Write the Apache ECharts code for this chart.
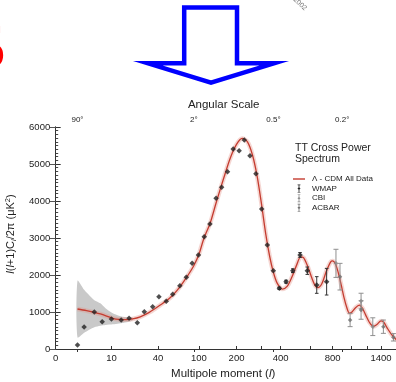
<!DOCTYPE html>
<html><head><meta charset="utf-8">
<script src="https://cdn.jsdelivr.net/npm/echarts@6/dist/echarts.min.js"></script>
<style>html,body{margin:0;padding:0;background:#fff}#c{width:396px;height:382px}</style>
</head><body><div id="c"></div>
<script>
// ---- axis ticks ----
const bottomTicks = [0, 10, 40, 100, 200, 300, 400, 600, 800, 1000, 1200, 1400];
const bottomLabels = [0, 10, 40, 100, 200, 400, 800, 1400];
const angleLabels = [90, 2, 0.5, 0.2];      // degrees, l = 180/theta
const lMax = 1690;

// ---- Lambda-CDM model curve ----
const modelL = [2, 3.4, 6.5, 10.5, 13, 16.7, 20, 25, 32, 42, 54, 67, 80, 90, 100, 110, 125, 140, 160, 180, 200, 220, 240, 260, 280, 300, 320, 340, 360, 380, 410, 440, 470, 500, 530, 550, 580, 610, 640, 665, 700, 740, 780, 800, 830, 860, 890, 920, 950, 980, 1010, 1050, 1100, 1140, 1180, 1230, 1290, 1340, 1400, 1440, 1500, 1560, 1625, 1690];
const modelV = [1081, 1036, 946, 829, 800, 795, 812, 870, 990, 1180, 1390, 1680, 2000, 2250, 2560, 2980, 3420, 3980, 4620, 5170, 5530, 5690, 5600, 5250, 4680, 3920, 3120, 2500, 2060, 1780, 1620, 1700, 1950, 2260, 2490, 2470, 2250, 1960, 1720, 1660, 1770, 2100, 2350, 2380, 2290, 2040, 1720, 1380, 1120, 970, 1000, 1110, 1185, 1100, 930, 730, 610, 660, 760, 730, 560, 410, 290, 200];

// ---- cosmic variance band ----
const bandL    = [2, 3, 4, 5, 6.5, 8, 10.5, 13, 16.7, 20];
const bandLow  = [315, 440, 530, 590, 631, 650, 667, 690, 721, 770];
const bandHigh = [1846, 1600, 1440, 1320, 1234, 1100, 964, 900, 856, 850];

// ---- WMAP ----
const wmapL   = [2, 3, 5, 7, 10, 14, 18, 23, 28, 35, 41, 49, 57, 67, 77, 87, 99, 111, 124, 139, 154, 171, 189, 209, 228, 250, 275, 301, 328, 359, 392, 432, 475, 525, 579, 655, 743];
const wmapV   = [108, 595, 1000, 738, 811, 784, 829, 712, 1009, 1144, 1414, 1288, 1477, 1712, 1937, 2315, 2541, 3036, 3378, 4072, 4370, 4792, 5405, 5360, 5649, 5225, 4738, 3784, 2811, 2116, 1640, 1819, 2116, 2541, 2116, 1730, 1819];
const wmapErr = [0, 0, 0, 0, 0, 0, 0, 0, 0, 0, 0, 0, 0, 0, 0, 0, 0, 0, 0, 0, 0, 0, 0, 0, 0, 0, 0, 0, 0, 0, 30, 40, 50, 65, 100, 225, 360];

// ---- CBI ----
const cbiL   = [834, 1122, 1280];
const cbiV   = [2315, 1297, 603];
const cbiErr = [380, 210, 240];

// ---- ACBAR ----
const acbarL   = [876, 988, 1122, 1437, 1599];
const acbarV   = [1955, 784, 1054, 603, 316];
const acbarErr = [360, 180, 250, 180, 100];

// multipole axis scale
const P = 0.23;
const g = l => Math.pow(1 + l, P) - 1;
const ginv = v => Math.pow(1 + v, 1 / P) - 1;

const FONT = 'Liberation Sans, Arial, Helvetica, sans-serif';
const pts = (L, V) => L.map((l, i) => [g(l), V[i]]);
const errPts = (L, V, E) => L.map((l, i) => [g(l), V[i], E[i]]);

function errRender(color, cap) {
  return function (params, api) {
    const x = api.value(0), y = api.value(1), e = api.value(2);
    if (!(e > 0)) return null;
    const t = api.coord([x, y + e]), b = api.coord([x, y - e]);
    const st = { stroke: color, lineWidth: 1 };
    return { type: 'group', children: [
      { type: 'line', shape: { x1: t[0], y1: t[1], x2: b[0], y2: b[1] }, style: st },
      { type: 'line', shape: { x1: t[0] - cap, y1: t[1], x2: t[0] + cap, y2: t[1] }, style: st },
      { type: 'line', shape: { x1: b[0] - cap, y1: b[1], x2: b[0] + cap, y2: b[1] }, style: st }
    ]};
  };
}

function bandRender(params, api) {
  if (params.dataIndex !== 0) return null;
  const top = bandL.map((l, i) => api.coord([g(l), bandHigh[i]]));
  const bot = bandL.map((l, i) => api.coord([g(l), bandLow[i]])).reverse();
  return { type: 'polygon', shape: { points: top.concat(bot), smooth: 0.25 },
    style: { fill: '#c9c9c9', stroke: 'none' } };
}

const errIcon = 'path://M1.6,0H2.4V8H1.6Z M0.6,0H3.4V0.6H0.6Z M0.6,7.4H3.4V8H0.6Z M2,2.5L3.5,4L2,5.5L0.5,4Z';

const chart = echarts.init(document.getElementById('c'), null, { renderer: 'canvas' });
chart.setOption({
  animation: false,
  backgroundColor: '#fff',
  textStyle: { fontFamily: FONT },
  grid: { left: 55.7, top: 127, width: 343, bottom: 33, outerBoundsMode: 'none', containLabel: false },
  title: {
    text: 'TT Cross Power\nSpectrum', left: 295, top: 143, padding: 0,
    textStyle: { fontSize: 10.5, lineHeight: 10.5, fontWeight: 'normal', color: '#222', fontFamily: FONT }
  },
  legend: {
    orient: 'vertical', left: 293, top: 175, padding: 0,
    itemWidth: 12, itemHeight: 8, itemGap: 1.6,
    textStyle: { fontSize: 8, color: '#222', fontFamily: FONT, padding: [0, 0, 0, 2] },
    data: [
      { name: 'Λ - CDM All Data', icon: 'path://M0,0H12V1.4H0Z' },
      { name: 'WMAP', icon: errIcon },
      { name: 'CBI', icon: errIcon },
      { name: 'ACBAR', icon: errIcon }
    ]
  },
  xAxis: [
    {
      type: 'value', position: 'bottom', min: 0, max: g(lMax),
      axisLine: { show: true, lineStyle: { color: '#333', width: 1 } },
      axisTick: { show: true, inside: true, length: 3, customValues: bottomTicks.map(g), lineStyle: { color: '#333' } },
      axisLabel: { customValues: bottomLabels.map(g), formatter: v => String(Math.round(ginv(v))),
        fontSize: 9.5, color: '#222', margin: 4, fontFamily: FONT },
      splitLine: { show: false },
      name: 'Multipole moment ({i|l})', nameLocation: 'middle', nameGap: 17,
      nameTextStyle: { fontSize: 11.5, color: '#222', fontFamily: FONT, padding: [0, 8, 0, 0],
        rich: { i: { fontSize: 11.5, fontStyle: 'italic', color: '#222', fontFamily: FONT } } }
    },
    {
      type: 'value', position: 'top', min: 0, max: g(lMax),
      axisLine: { show: true, lineStyle: { color: '#333', width: 1 } },
      axisTick: { show: true, inside: true, length: 3, customValues: angleLabels.map(a => g(180 / a)), lineStyle: { color: '#333' } },
      axisLabel: { customValues: angleLabels.map(a => g(180 / a)),
        formatter: v => (+(180 / Math.round(ginv(v))).toFixed(2)) + '°',
        fontSize: 8, color: '#222', margin: 3, fontFamily: FONT },
      splitLine: { show: false },
      name: 'Angular Scale', nameLocation: 'middle', nameGap: 14.5,
      nameTextStyle: { fontSize: 11.5, color: '#222', fontFamily: FONT, padding: [0, 7, 0, 0] }
    }
  ],
  yAxis: [
    {
      type: 'value', position: 'left', min: 0, max: 6000, interval: 1000,
      axisLine: { show: true, lineStyle: { color: '#333', width: 1 } },
      axisTick: { show: true, inside: true, length: 5, lineStyle: { color: '#333' } },
      minorTick: { show: true, splitNumber: 10, length: 2.5, lineStyle: { color: '#444' } },
      axisLabel: { fontSize: 9.5, color: '#222', margin: 5.5, fontFamily: FONT, formatter: v => String(v) },
      splitLine: { show: false }, minorSplitLine: { show: false },
      name: '{i|l}({i|l}+1)C{s|l}/2π (μK{p|2})', nameLocation: 'middle', nameGap: 33,
      nameTextStyle: { fontSize: 11, color: '#222', fontFamily: FONT, lineHeight: 14, padding: [0, 0, 0, 8],
        rich: {
          i: { fontSize: 11, fontStyle: 'italic', color: '#222', fontFamily: FONT, lineHeight: 14 },
          s: { fontSize: 7.5, fontStyle: 'italic', color: '#222', fontFamily: FONT, lineHeight: 9, verticalAlign: 'bottom' },
          p: { fontSize: 7.5, color: '#222', fontFamily: FONT, lineHeight: 9, verticalAlign: 'top' }
        } }
    },
    {
      type: 'value', position: 'right', min: 0, max: 6000, interval: 1000,
      axisLine: { show: true, lineStyle: { color: '#333', width: 1 } },
      axisTick: { show: true, inside: true, length: 6, lineStyle: { color: '#555' } },
      axisLabel: { show: false }, splitLine: { show: false }
    }
  ],
  series: [
    { type: 'custom', name: 'cosmicVariance', data: bandL.map((l, i) => [g(l), bandLow[i], bandHigh[i]]),
      renderItem: bandRender, silent: true, z: 1 },
    { type: 'line', name: 'modelHalo', data: pts(modelL, modelV), smooth: 0.3, showSymbol: false, silent: true,
      lineStyle: { color: 'rgba(225,140,130,0.35)', width: 4.5 }, z: 2 },
    { type: 'line', name: 'Λ - CDM All Data', data: pts(modelL, modelV), smooth: 0.3, showSymbol: false,
      itemStyle: { color: '#c43c30' }, lineStyle: { color: '#c43c30', width: 1.3 }, z: 4 },
    { type: 'custom', name: 'WMAP', data: errPts(wmapL, wmapV, wmapErr), renderItem: errRender('#333', 1.8),
      itemStyle: { color: '#222' }, z: 5 },
    { type: 'scatter', name: 'WMAP', data: pts(wmapL, wmapV), symbol: 'diamond', symbolSize: 5.5,
      itemStyle: { color: '#222' }, z: 6 },
    { type: 'custom', name: 'CBI', data: errPts(cbiL, cbiV, cbiErr), renderItem: errRender('#8f8f8f', 2.5),
      itemStyle: { color: '#8a8a8a' }, z: 5 },
    { type: 'scatter', name: 'CBI', data: pts(cbiL, cbiV), symbol: 'diamond', symbolSize: 4.5,
      itemStyle: { color: '#8a8a8a' }, z: 6 },
    { type: 'custom', name: 'ACBAR', data: errPts(acbarL, acbarV, acbarErr), renderItem: errRender('#8f8f8f', 2.5),
      itemStyle: { color: '#6f6f6f' }, z: 5 },
    { type: 'scatter', name: 'ACBAR', data: pts(acbarL, acbarV), symbol: 'diamond', symbolSize: 4.5,
      itemStyle: { color: '#6f6f6f' }, z: 6 }
  ],
  graphic: [
    { type: 'polygon', shape: { points: [[184.2, 7.5], [237, 7.5], [237, 63.3], [274, 63.3], [211, 82.6], [148, 63.3], [184.2, 63.3]] },
      style: { fill: '#fff', stroke: '#0000ff', lineWidth: 4.5, lineJoin: 'miter' }, z: 10 },
    { type: 'text', x: 5.5, y: 51, style: { text: '5', fill: '#ff0000', font: 'bold 64px Liberation Serif', align: 'right', verticalAlign: 'middle' }, z: 10 },
    { type: 'text', x: 300, y: 4, rotation: -0.75, style: { text: '2002', fill: '#777', font: '7px Liberation Sans', align: 'center', verticalAlign: 'middle' }, z: 10 }
  ]
});
</script>
</body></html>
